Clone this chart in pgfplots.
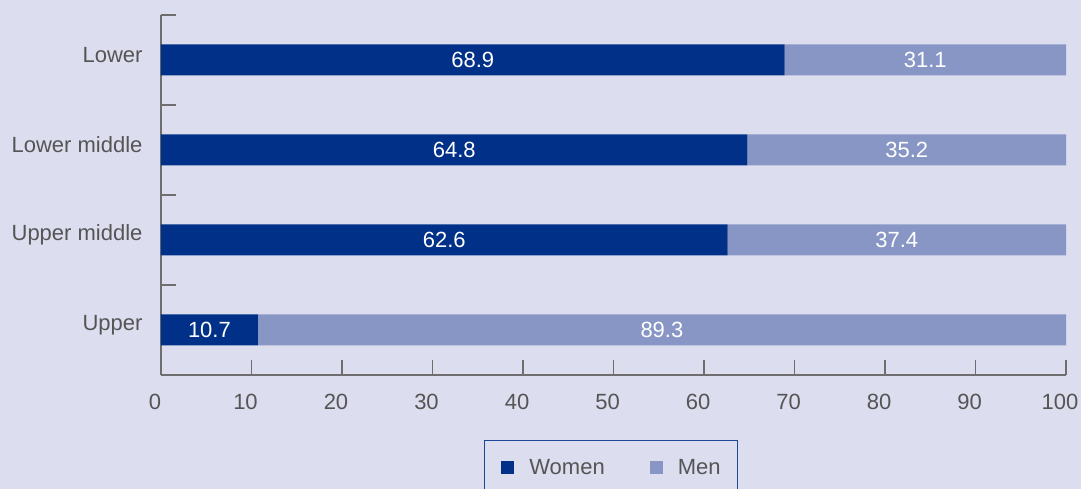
\documentclass[border=0pt]{standalone}
\usepackage{pgfplots}
\pgfplotsset{compat=1.18}
\usepackage{fontspec}
\setmainfont{Liberation Sans}
\definecolor{bg}{RGB}{220,221,239}
\definecolor{women}{RGB}{0,48,135}
\definecolor{men}{RGB}{136,150,198}
\definecolor{axisgray}{RGB}{110,110,110}
\definecolor{txt}{RGB}{85,85,85}
\definecolor{legblue}{RGB}{30,70,150}
\newcommand\f{\fontsize{22pt}{26pt}\selectfont}

\begin{document}
\begin{tikzpicture}[x=1pt,y=1pt]
\fill[bg] (0,0) rectangle (1081,489);

\begin{axis}[
  at={(161pt,114pt)}, anchor=south west,
  scale only axis, width=905pt, height=360pt,
  xbar stacked, bar width=31pt,
  xmin=0, xmax=100, ymin=-0.5, ymax=3.5,
  axis lines*=left,
  axis line style={axisgray, line width=1.5pt},
  tick style={axisgray, line width=1.5pt},
  tick align=inside, major tick length=15pt,
  /pgf/number format/assume math mode=true,
  xtick={0,10,...,100},
  ytick={-0.5,0.5,1.5,2.5,3.5}, yticklabels={},
  extra y ticks={0,1,2,3},
  extra y tick labels={Upper,Upper middle,Lower middle,Lower},
  extra y tick style={major tick length=0pt},
  ticklabel style={font=\f, text=txt},
  xticklabel style={xshift=-6pt, yshift=-16pt},
  yticklabel style={xshift=-15pt, yshift=5pt},
  legend columns=2,
  legend style={at={(0.4972,-0.1806)}, anchor=north,
    draw=legblue, line width=1pt, fill=bg,
    inner xsep=17pt, inner ysep=19pt, font=\f, text=txt,
    nodes={inner sep=0pt},
    /tikz/every odd column/.append style={column sep=15pt},
    /tikz/every even column/.append style={column sep=45pt}},
  legend image code/.code={\fill[#1] (0pt,-6.5pt) rectangle (13pt,6.5pt);},
]
\addplot[fill=women, draw=none] coordinates {(10.7,0) (62.6,1) (64.8,2) (68.9,3)};
\addplot[fill=men, draw=none] coordinates {(89.3,0) (37.4,1) (35.2,2) (31.1,3)};
\legend{Women,Men}
\end{axis}

\begin{axis}[
  at={(161pt,114pt)}, anchor=south west,
  scale only axis, width=905pt, height=360pt,
  xmin=0, xmax=100, ymin=-0.5, ymax=3.5, hide axis,
]
\addplot[draw=none, mark=none, nodes near coords, point meta=explicit symbolic,
  every node near coord/.append style={anchor=center, text=white, font=\f}]
  coordinates {
  (5.35,0)[10.7] (31.3,1)[62.6] (32.4,2)[64.8] (34.45,3)[68.9]
  (55.35,0)[89.3] (81.3,1)[37.4] (82.4,2)[35.2] (84.45,3)[31.1]
  };
\end{axis}

\pgfresetboundingbox
\useasboundingbox (0,0) rectangle (1081,489);
\end{tikzpicture}
\end{document}
